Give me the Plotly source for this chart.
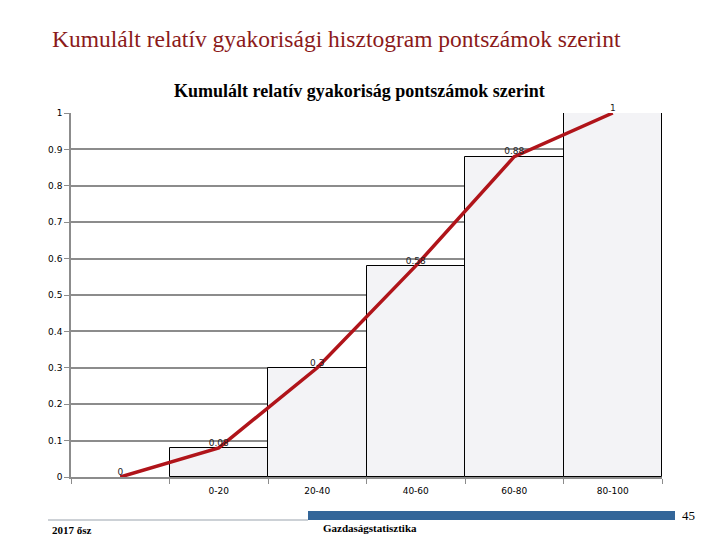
import plotly.graph_objects as go

# Kategóriák és kumulált relatív gyakoriságok
categories = [" ", "0-20", "20-40", "40-60", "60-80", "80-100"]
bar_values = [None, 0.08, 0.3, 0.58, 0.88, 1]
line_values = [0, 0.08, 0.3, 0.58, 0.88, 1]
line_labels = ["0", "0.08", "0.3", "0.58", "0.88", "1"]
y_ticks = [0, 0.1, 0.2, 0.3, 0.4, 0.5, 0.6, 0.7, 0.8, 0.9, 1]

grid_grey = '#8c8c8c'
line_red = '#b0141a'

fig = go.Figure()

fig.add_trace(go.Bar(
    x=categories, y=bar_values,
    marker=dict(color='#f3f3f6', line=dict(color='black', width=1)),
    showlegend=False, hoverinfo='skip'
))

fig.add_trace(go.Scatter(
    x=categories, y=line_values,
    mode='lines+text',
    line=dict(color=line_red, width=3.5),
    text=line_labels, textposition='top center',
    textfont=dict(family='DejaVu Sans', size=9, color='#222222'),
    showlegend=False, cliponaxis=False
))

fig.update_xaxes(
    type='category', categoryorder='array', categoryarray=categories,
    tickson='boundaries', ticks='outside', ticklen=5, tickcolor=grid_grey,
    showline=True, linecolor=grid_grey, linewidth=1.5,
    showgrid=False, tickfont=dict(family='DejaVu Sans', size=9, color='black'),
    ticklabelstandoff=4
)
fig.update_yaxes(
    range=[0, 1], tickvals=y_ticks, ticktext=[str(v) for v in y_ticks],
    ticks='outside', ticklen=5, tickcolor=grid_grey,
    showline=True, linecolor=grid_grey, linewidth=1.5,
    showgrid=True, gridcolor=grid_grey, gridwidth=1.5, zeroline=False,
    tickfont=dict(family='DejaVu Sans', size=9, color='black')
)

# Plot terület az oldalon: x 71..662, y 113..477 pixel (a lap 8 px-es margóval tolja el)
def px(x):
    return (x - 71) / 591


def py(y):
    return (477 - y) / 364


annotations = [
    dict(text='Kumulált relatív gyakorisági hisztogram pontszámok szerint',
         x=px(336), y=py(39), font=dict(family='Liberation Serif', size=23.5, color='#8b1a1a')),
    dict(text='<b>Kumulált relatív gyakoriság pontszámok szerint</b>',
         x=px(359), y=py(91), font=dict(family='Liberation Serif', size=18, color='black')),
    dict(text='45', x=px(688), y=py(515),
         font=dict(family='Liberation Serif', size=13, color='black')),
    dict(text='<b>2017 ősz</b>', x=px(72), y=py(530),
         font=dict(family='Liberation Serif', size=11, color='black')),
    dict(text='<b>Gazdaságstatisztika</b>', x=px(370), y=py(528),
         font=dict(family='Liberation Serif', size=11, color='black')),
]
for a in annotations:
    a.update(xref='paper', yref='paper', showarrow=False, xanchor='center', yanchor='middle')

shapes = [
    dict(type='rect', xref='paper', yref='paper', x0=px(308), x1=px(675), y0=py(520), y1=py(511),
         fillcolor='#336699', line=dict(width=0)),
    dict(type='line', xref='paper', yref='paper', x0=px(48), x1=px(308), y0=py(520), y1=py(520),
         line=dict(color='#9aa3ad', width=1)),
]

fig.update_layout(
    width=712, height=532,
    margin=dict(l=63, r=58, t=105, b=63),
    paper_bgcolor='white', plot_bgcolor='white',
    bargap=0, annotations=annotations, shapes=shapes
)

fig.write_html("out.html")
